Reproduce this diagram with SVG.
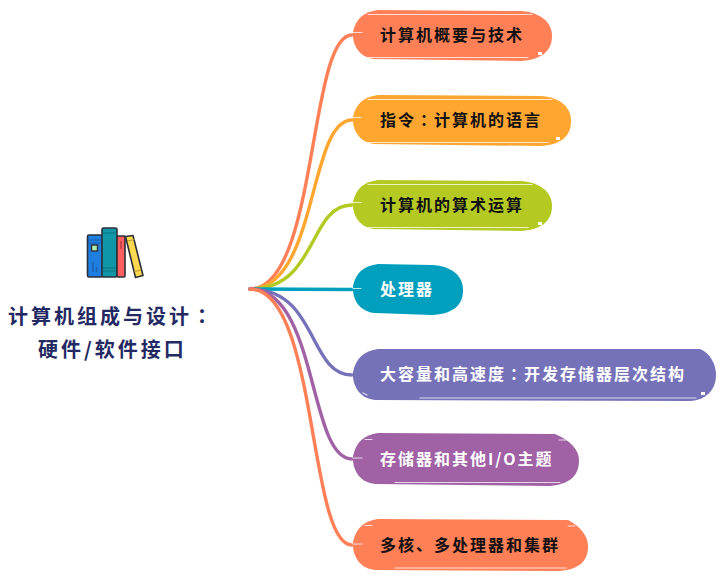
<svg xmlns="http://www.w3.org/2000/svg" width="728" height="586" viewBox="0 0 728 586">
<style>
.t{font-family:"Noto Sans CJK SC","Liberation Sans",sans-serif;font-weight:700;font-size:16px;letter-spacing:2px}
.q{font-family:"Noto Sans CJK TC","Noto Sans CJK SC",sans-serif}
.d{fill:#111}.l{fill:#fff}
.c{fill:none;stroke-width:3.4;stroke-linecap:round}
.h{fill:none;stroke:#fff;stroke-width:1.2;stroke-linecap:round;opacity:.75}
.w{fill:#fff}
.b{stroke:#2b3038;stroke-width:1.6;stroke-linejoin:round}
.title{font-family:"Noto Sans CJK SC","Liberation Sans",sans-serif;font-weight:700;font-size:20px;letter-spacing:3px;fill:#232a63}
</style>
<rect width="728" height="586" fill="#fff"/>
<g id="connectors">
<path class="c" stroke="#FF7F57" d="M250 289C318 289 308 35 352 35"/>
<path class="c" stroke="#FFA631" d="M250 289C318 289 308 120 352 120"/>
<path class="c" stroke="#B5C923" d="M250 289C318 289 308 205 352 205"/>
<path class="c" stroke="#009FBD" d="M250 289C290 289 310 289.500 352 289.500"/>
<path class="c" stroke="#7672B9" d="M250 289C318 289 308 375 352 375"/>
<path class="c" stroke="#A062A5" d="M250 289C318 289 308 459 352 459"/>
<path class="c" stroke="#FF7F57" d="M250 289C318 289 308 545 352 545"/>
</g>
<g id="root">
<g>
<rect class="b" x="87.500" y="235" width="15" height="42" rx="1.500" fill="#1f7fe0"/>
<path d="M88 240H102M88 243H102" stroke="#1c5fae" stroke-width="1"/>
<rect x="91.500" y="245" width="6" height="6" fill="#b4ecb0" stroke="#2b3038" stroke-width="1.400"/>
<path d="M93 262V272M96.500 267V272" stroke="#1c5fae" stroke-width="1.500"/>
<rect class="b" x="102" y="228" width="15" height="49" rx="1.500" fill="#0f97a8"/>
<path d="M102.500 233H116.500M102.500 268H116.500M102.500 271H116.500" stroke="#0b7280" stroke-width="1"/>
<rect class="b" x="117" y="236" width="8" height="41" rx="1" fill="#ff5f5f"/>
<path d="M121 241V249" stroke="#b83f48" stroke-width="1.500"/>
<path class="b" fill="#ffd84f" d="M125.500 236.500L133 235.500L143 275.500L135.500 277.500Z"/>
<path d="M127 241L134.500 239.500M133.500 272L141 270" stroke="#b79a2e" stroke-width="1"/>
</g>
<text class="title" x="8" y="324">计算机组成与设计<tspan class="q">：</tspan></text>
<text class="title" x="38" y="357">硬件/软件接口</text>
</g>
<g id="n1">
<path fill="#FF7F57" d="M353 32C356 18 364 12 378 10L520 11C540 12 552 22 552 36C552 52 540 60 520 61L375 59C360 58 352 46 353 32Z"/>
<path class="h" d="M368 14.500H532M367 57.500H528M353 32.500H362"/>
<rect class="w" x="538" y="52" width="4" height="3"/>
<text class="t d" x="380" y="41">计算机概要与技术</text>
</g>
<g id="n2">
<path fill="#FFA631" d="M353 117C356 103 364 97 378 95L540 96C560 97 571 107 571 121C571 137 560 145 540 146L375 144C360 143 352 131 353 117Z"/>
<path class="h" d="M368 99.500H552M367 142.500H548M353 117.500H361"/>
<rect class="w" x="556" y="137" width="4" height="3"/>
<text class="t d" x="380" y="126">指令<tspan class="q">：</tspan>计算机的语言</text>
</g>
<g id="n3">
<path fill="#B5C923" d="M353 202C356 188 364 182 378 180L520 181C540 182 552 192 552 206C552 222 540 230 520 231L375 229C360 228 352 216 353 202Z"/>
<path class="h" d="M368 184.500H532M367 227.500H528M353 202.500H361"/>
<rect class="w" x="538" y="222" width="4" height="3"/>
<text class="t d" x="380" y="211">计算机的算术运算</text>
</g>
<g id="n4">
<path fill="#009FBD" d="M353 286C356 272 364 266 378 264L432 265C452 266 463 276 463 290C463 306 452 314 432 315L375 313C360 312 352 300 353 286Z"/>
<path class="h" d="M353 288.500H361"/>
<text class="t l" x="380" y="295">处理器</text>
</g>
<g id="n5">
<path fill="#7672B9" d="M353 372C356 358 364 351 378 349L700 349C710 353 716 364 716 375C716 390 706 400 690 401L375 400C360 399 352 386 353 372Z"/>
<path class="h" d="M420 398H696M363 393L367 395"/>
<rect class="w" x="701" y="392" width="4" height="3"/>
<text class="t l" x="380" y="380">大容量和高速度<tspan class="q">：</tspan>开发存储器层次结构</text>
</g>
<g id="n6">
<path fill="#A062A5" d="M353 456C356 442 364 435 378 433L555 434C570 440 579 450 579 460C579 476 570 484 550 486L375 484C360 483 352 470 353 456Z"/>
<path class="h" d="M365 439.500H372M559 440H566M395 482.500H560M353 458H362"/>
<text class="t l" x="380" y="465">存储器和其他I/O主题</text>
</g>
<g id="n7">
<path fill="#FF7F57" d="M353 542C356 528 364 521 378 519L568 520C580 526 588 536 588 546C588 562 578 570 558 571L375 570C360 569 352 556 353 542Z"/>
<path class="h" d="M365 525.500H372M568 526H575M395 568H566M353 544H362"/>
<text class="t d" x="380" y="551">多核、多处理器和集群</text>
</g>
</svg>
